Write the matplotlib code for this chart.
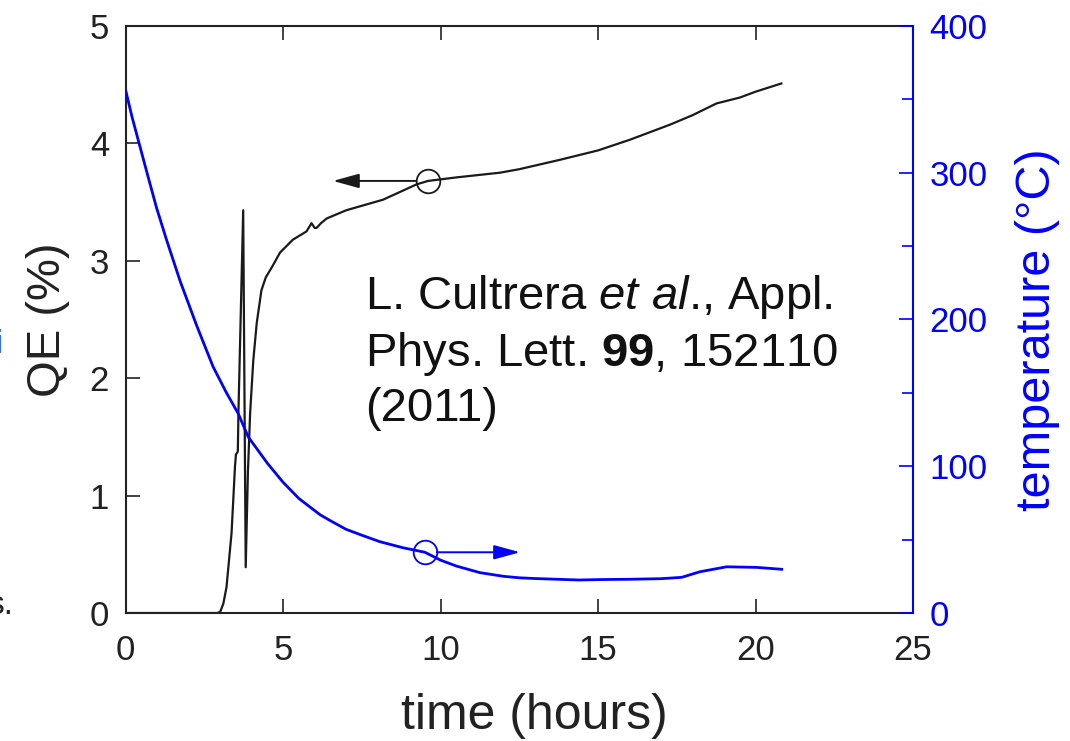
import matplotlib
matplotlib.use("Agg")
import matplotlib.pyplot as plt
from matplotlib.ticker import MultipleLocator

plt.rcParams['font.family'] = ['Liberation Sans', 'DejaVu Sans']
plt.rcParams['mathtext.fontset'] = 'custom'
plt.rcParams['mathtext.rm'] = 'Liberation Sans'
plt.rcParams['mathtext.it'] = 'Liberation Sans:italic'
plt.rcParams['mathtext.bf'] = 'Liberation Sans:bold'

# QE (%) vs time (hours)
qe_time = [0, 2.9, 3.0, 3.1, 3.2, 3.36, 3.47, 3.5, 3.55, 3.56, 3.58, 3.73, 3.77, 3.81,
           3.88, 3.95, 4.05, 4.16, 4.31, 4.45, 4.63, 4.9, 5.31, 5.74, 5.9, 6.0, 6.06,
           6.2, 6.38, 7.0, 8.17, 9.23, 9.6, 10.5, 11.88, 12.5, 13.79, 15.0, 16.0,
           17.29, 18.0, 18.76, 19.5, 20.0, 20.82]
qe_values = [0, 0, 0.01, 0.08, 0.22, 0.68, 1.25, 1.35, 1.37, 1.38, 1.72, 3.43, 1.9, 0.39,
             1.2, 1.70, 2.15, 2.47, 2.75, 2.86, 2.94, 3.07, 3.18, 3.25, 3.32, 3.28, 3.28,
             3.32, 3.36, 3.43, 3.52, 3.65, 3.68, 3.71, 3.75, 3.78, 3.86, 3.94, 4.03,
             4.16, 4.24, 4.34, 4.39, 4.44, 4.51]

# temperature (°C) vs time (hours)
temp_time = [0, 0.2, 0.45, 0.7, 0.98, 1.3, 1.73, 2.25, 2.77, 3.2, 3.57, 3.89, 4.5, 5.0,
             5.5, 6.17, 6.49, 7.0, 7.5, 8.07, 8.8, 9.5, 10.0, 10.5, 11.25, 12.0, 12.5,
             13.0, 14.4, 15.06, 16.0, 17.0, 17.65, 18.23, 19.08, 20.03, 20.83]
temp_values = [356, 338, 318, 298, 276, 254, 226, 196, 168, 150, 136, 120, 102, 89,
               78, 67, 63, 57, 53, 48.6, 44.5, 41.4, 36, 32, 27.5, 25, 24,
               23.5, 22.5, 22.8, 23.0, 23.4, 24.3, 28.1, 31.5, 31.1, 29.8]

x_ticks = [0, 5, 10, 15, 20, 25]
qe_ticks = [0, 1, 2, 3, 4, 5]
temp_ticks = [0, 100, 200, 300, 400]

BLUE = '#0000ff'
DARK = '#222222'

fig = plt.figure(figsize=(10.7, 7.41), dpi=100)
ax1 = fig.add_axes([0.1175, 0.1727, 0.7358, 0.7923])
ax2 = ax1.twinx()

ax1.plot(qe_time, qe_values, color='#1a1a1a', lw=1.6)
ax2.plot(temp_time, temp_values, color=BLUE, lw=2.0)

ax1.set_xlim(0, 25)
ax1.set_ylim(0, 5)
ax2.set_ylim(0, 400)
ax1.set_xticks(x_ticks)
ax1.set_yticks(qe_ticks)
ax2.set_yticks(temp_ticks)
ax2.yaxis.set_minor_locator(MultipleLocator(50))

ax1.tick_params(axis='both', which='major', direction='in', length=10, width=1.2,
                labelsize=25, top=True, right=False, colors=DARK)
ax1.tick_params(axis='x', pad=15)
ax1.tick_params(axis='y', pad=12)
ax2.tick_params(axis='y', which='major', direction='in', length=10, width=1.2,
                labelsize=25, colors=BLUE, pad=12)
ax2.tick_params(axis='y', which='minor', direction='in', length=8, width=1.2, colors=BLUE)

for sp in ['left', 'bottom', 'top']:
    ax1.spines[sp].set_linewidth(1.5)
    ax1.spines[sp].set_color(DARK)
ax2.spines['right'].set_color(BLUE)
ax2.spines['right'].set_linewidth(1.5)
for sp in ['left', 'bottom', 'top']:
    ax2.spines[sp].set_visible(False)
ax1.spines['right'].set_visible(False)

ax1.set_xlabel('time (hours)', fontsize=36, color=DARK)
ax1.set_ylabel('QE (%)', fontsize=34, labelpad=14, color=DARK)
ax2.set_ylabel('temperature (°C)', fontsize=35, color=BLUE)

# label positions in axes fraction
ax1.xaxis.set_label_coords(0.519, -0.175)
ax1.xaxis.label.set_va('center')
ax2.yaxis.set_label_coords(1.158, 0.482)
ax2.yaxis.label.set_va('center')

# circle markers and arrows
ax1.plot([9.6], [3.68], marker='o', ms=17, mfc='none', mec='#1a1a1a', mew=1.3)
ax1.annotate('', xy=(6.58, 3.68), xytext=(9.22, 3.68),
             arrowprops=dict(arrowstyle='-|>,head_length=0.8,head_width=0.22',
                             mutation_scale=20, color='#1a1a1a', lw=1.4,
                             shrinkA=0, shrinkB=0))
ax2.plot([9.5], [41.4], marker='o', ms=17, mfc='none', mec=BLUE, mew=1.3)
ax2.annotate('', xy=(12.52, 41.4), xytext=(9.88, 41.4),
             arrowprops=dict(arrowstyle='-|>,head_length=0.8,head_width=0.22',
                             mutation_scale=20, color=BLUE, lw=1.4,
                             shrinkA=0, shrinkB=0))

ax1.text(7.6, 2.9, 'L. Cultrera $\\mathit{et\\ al}$., Appl.\nPhys. Lett. $\\mathbf{99}$, 152110\n(2011)',
         fontsize=34, color='#111111', ha='left', va='top', linespacing=1.27)

# cropped slide fragments at left edge
fig.text(-0.004, 0.535, 'i', fontsize=24, color='#3a6fd8', ha='left', va='center')
fig.text(-0.012, 0.183, 's.', fontsize=24, color=DARK, ha='left', va='center')

fig.savefig('out.png', dpi=100)
